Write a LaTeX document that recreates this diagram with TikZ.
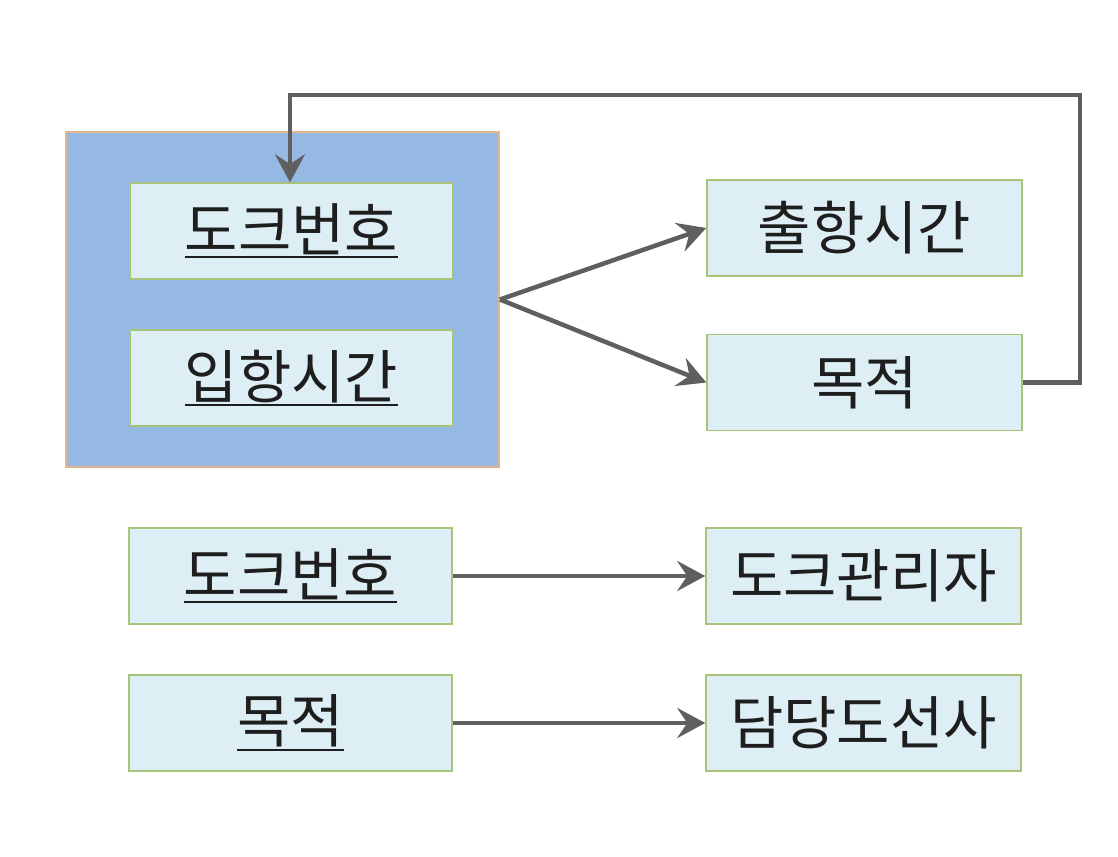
\documentclass[tikz,border=0pt]{standalone}
\usepackage{fontspec}
\setmainfont{Noto Sans CJK KR}
\usetikzlibrary{arrows.meta,calc}
\definecolor{outerfill}{HTML}{95B9E3}
\definecolor{outerline}{HTML}{E2B48F}
\definecolor{boxfill}{HTML}{DDEEF5}
\definecolor{boxline}{HTML}{A7C47A}
\definecolor{arrowgray}{HTML}{5F5F5F}
\definecolor{txt}{HTML}{1E1E1E}
\newcommand\myul[1]{\vtop{\hbox{#1}\kern1pt\hrule height 2.5pt}}
\begin{document}
\begin{tikzpicture}[x=1pt,y=-1pt,
  outerbox/.style={draw=outerline, fill=outerfill, line width=2pt, minimum width=433pt, minimum height=335pt, inner sep=0pt},
  attrbox/.style={draw=boxline, fill=boxfill, line width=1.5pt, minimum width=323pt, minimum height=96pt, inner sep=0pt, text=txt, font=\fontsize{58}{64}\selectfont},
  rbox/.style={attrbox, minimum width=315pt},
  conn/.style={draw=arrowgray, line width=4.5pt, -{Stealth[length=28pt,width=30pt,inset=10pt]}}]
\useasboundingbox (0,0) rectangle (1118,856);
\fill[white] (0,0) rectangle (1118,856);
\node[outerbox] (outer) at (282.5,299.5) {};
\node[attrbox] (dock1) at (291.5,231) {\myul{도크번호}};
\node[attrbox] (ipang) at (291.5,378) {\myul{입항시간}};
\node[rbox] (chul) at (864.5,228) {출항시간};
\node[rbox] (mok1) at (864.5,382.5) {목적};
\node[attrbox] (dock2) at (290.5,576) {\myul{도크번호}};
\node[rbox] (mgr) at (863.5,576) {도크관리자};
\node[attrbox] (mok2) at (290.5,723) {\myul{목적}};
\node[rbox] (pilot) at (863.5,723) {담당도선사};
\coordinate (c1) at (1080,382.5);
\coordinate (c2) at (1080,95);
\coordinate (c3) at (290,95);
\draw[conn] (outer.east) -- (chul.west);
\draw[conn] (outer.east) -- (mok1.west);
\draw[conn] (mok1.east) -- (c1) -- (c2) -- (c3) -- (c3 |- dock1.north);
\draw[conn] (dock2.east) -- (mgr.west);
\draw[conn] (mok2.east) -- (pilot.west);
\end{tikzpicture}
\end{document}
